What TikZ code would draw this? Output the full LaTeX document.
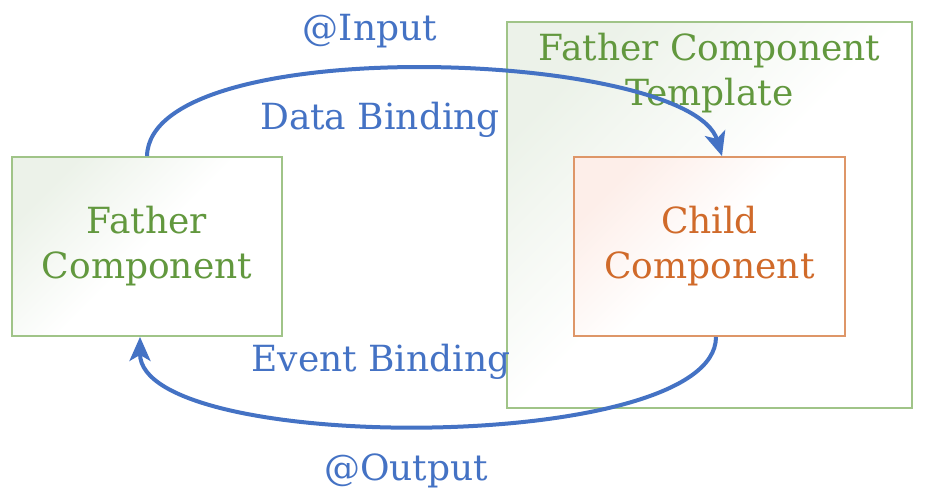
\documentclass[tikz,border=0pt]{standalone}
\usepackage{fontspec}
\setmainfont{DejaVu Serif}
\usetikzlibrary{positioning}
\usetikzlibrary{arrows.meta}
\definecolor{bindblue}{RGB}{68,114,196}
\definecolor{fathergreen}{RGB}{98,152,62}
\definecolor{fatherline}{RGB}{160,196,136}
\definecolor{fathertint}{RGB}{236,242,233}
\definecolor{childorange}{RGB}{208,106,42}
\definecolor{childline}{RGB}{222,150,104}
\definecolor{childtint}{RGB}{253,238,233}

\begin{document}
\begin{tikzpicture}[x=1pt, y=-1pt,
greenbox/.style={rectangle, draw=fatherline, line width=1.8pt, top color=fathertint, bottom color=white, middle color=white, shading angle=45},
orangebox/.style={rectangle, draw=childline, line width=1.8pt, top color=childtint, bottom color=white, middle color=white, shading angle=45},
greentext/.style={text=fathergreen, font=\fontsize{36}{45}\selectfont, align=center},
orangetext/.style={text=childorange, font=\fontsize{36}{45}\selectfont, align=center},
bluetext/.style={text=bindblue, font=\fontsize{36}{40}\selectfont},
bindarrow/.style={draw=bindblue, line width=4pt, arrows={-Stealth[length=24pt, width=21pt, inset=6pt]}},
]
\useasboundingbox (0,0) rectangle (938,499);

%Nodes
\node[greenbox, minimum width=270pt, minimum height=179pt]   at (147,246.5)  (father)        [] {};
\node[greentext]   at (147,246.5)  (father_text)   [] {Father\\Component};

\node[greenbox, minimum width=405pt, minimum height=386pt]   at (709.5,215)  (template)      [] {};
\node[greentext]   at (709.5,73)   (template_text) [] {Father Component\\Template};

\node[orangebox, minimum width=271pt, minimum height=179pt]  at (709.5,246.5) (child)        [] {};
\node[orangetext]  at (709.5,246.5) (child_text)   [] {Child\\Component};

\node[bluetext]    at (370,31)     (input)         [] {@Input};
\node[bluetext]    at (380,120)    (databind)      [] {Data Binding};
\node[bluetext]    at (381,362)    (eventbind)     [] {Event Binding};
\node[bluetext]    at (406,471)    (output)        [] {@Output};

%Lines
\draw[bindarrow] (father.north) .. controls (150,30) and (690,50) .. (child.north -| 722,0);
\draw[bindarrow] (child.south -| 716,0) .. controls (716,455) and (140,455) .. (father.south -| 140,0);

\end{tikzpicture}
\end{document}
